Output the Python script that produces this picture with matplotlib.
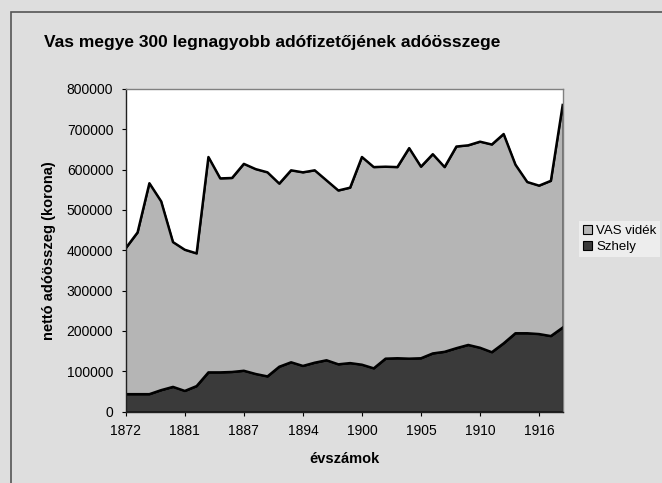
import matplotlib.pyplot as plt
from matplotlib.patches import Rectangle

plt.rcParams['font.family'] = ['Liberation Sans', 'DejaVu Sans']

# years (categories), only every 5th is labelled on the axis
years = [1872, 1873, 1875, 1877, 1879, 1881, 1882, 1883, 1884, 1886,
         1887, 1888, 1890, 1891, 1892, 1894, 1895, 1896, 1897, 1899,
         1900, 1901, 1902, 1903, 1904, 1905, 1906, 1907, 1908, 1909,
         1910, 1911, 1912, 1913, 1915, 1916, 1917, 1918]

szhely = [43000, 43000, 43000, 53000, 61000, 51000, 63000, 97000, 97000, 98000,
          101000, 93000, 87000, 111000, 122000, 113000, 121000, 127000, 117000, 120000,
          116000, 107000, 131000, 132000, 131000, 132000, 144000, 148000, 157000, 165000,
          158000, 147000, 169000, 194000, 194000, 192000, 187000, 208000]

vas_videk = [362000, 401000, 523000, 468000, 359000, 350000, 329000, 534000, 481000, 481000,
             513000, 508000, 506000, 454000, 476000, 480000, 477000, 446000, 431000, 435000,
             515000, 499000, 476000, 474000, 522000, 475000, 494000, 458000, 500000, 495000,
             511000, 515000, 519000, 418000, 375000, 368000, 385000, 552000]

series_names = ['Szhely', 'VAS vidék']
colors = ['#3a3a3a', '#b5b5b5']

bg = '#dedede'
fig = plt.figure(figsize=(6.62, 4.83), dpi=100, facecolor=bg)
ax = fig.add_axes([0.190, 0.148, 0.660, 0.668])
ax.set_facecolor('white')

x = list(range(len(years)))
ax.stackplot(x, szhely, vas_videk, colors=colors, labels=series_names)
# black outline on top of each band
total = [a + b for a, b in zip(szhely, vas_videk)]
ax.plot(x, szhely, color='black', lw=1.8)
ax.plot(x, total, color='black', lw=1.8)

ax.set_xlim(0, len(years) - 1)
ax.set_ylim(0, 800000)
ax.set_yticks(range(0, 800001, 100000))
ax.set_yticklabels([str(v) for v in range(0, 800001, 100000)], fontsize=10)
ax.set_xticks(x[::5])
ax.set_xticklabels([str(y) for y in years[::5]], fontsize=10)
ax.tick_params(axis='both', length=3, pad=6)

for s in ax.spines.values():
    s.set_color('#808080')
    s.set_linewidth(1.0)
ax.spines['left'].set_color('#202020')
ax.spines['bottom'].set_color('#202020')

ax.set_xlabel('évszámok', fontsize=10.5, fontweight='bold', labelpad=10)
ax.set_ylabel('nettó adóösszeg (korona)', fontsize=10.5, fontweight='bold', labelpad=8)

fig.text(272 / 662, 1 - 42 / 483, 'Vas megye 300 legnagyobb adófizetőjének adóösszege',
         ha='center', va='center', fontsize=12.5, fontweight='bold')

# legend, VAS vidék first as in the original
handles, labels = ax.get_legend_handles_labels()
for h in handles:
    h.set_edgecolor('black')
    h.set_linewidth(0.8)
leg = fig.legend(handles[::-1], labels[::-1], loc='center left',
                 bbox_to_anchor=(579 / 662, 1 - 239 / 483), fontsize=9.5,
                 frameon=True, fancybox=False, handlelength=0.7, handleheight=0.7,
                 handletextpad=0.3, borderpad=0.3, labelspacing=0.3,
                 borderaxespad=0.0)
leg.get_frame().set_edgecolor('none')
leg.get_frame().set_facecolor('#f2f2f2')

# chart area frame (runs off the right and bottom edges)
fig.patches.append(Rectangle((11 / 662, -0.1), 1.0, 1 - 12 / 483 + 0.1,
                             transform=fig.transFigure, fill=False,
                             edgecolor='#555555', lw=1.2))

fig.savefig('out.png', dpi=100, facecolor=bg)
